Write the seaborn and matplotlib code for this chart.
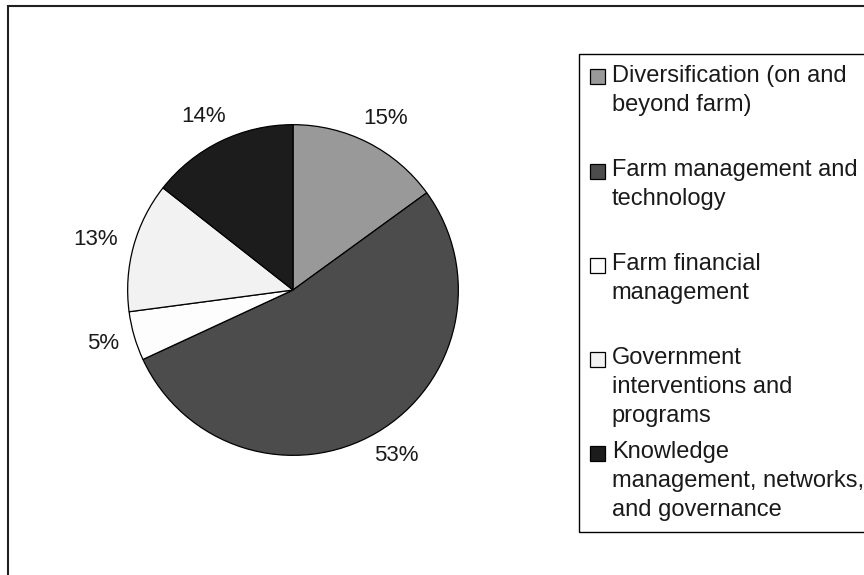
import matplotlib
matplotlib.use("Agg")
import numpy as np
import matplotlib.pyplot as plt
import seaborn as sns
from matplotlib.patches import Rectangle
from matplotlib.legend_handler import HandlerPatch

categories = [
    "Diversification (on and\nbeyond farm)",
    "Farm management and\ntechnology",
    "Farm financial\nmanagement",
    "Government\ninterventions and\nprograms",
    "Knowledge\nmanagement, networks,\nand governance",
]
shares = [15.0, 53.1, 4.8, 12.7, 14.4]
colors = ["#999999", "#4c4c4c", "#fdfdfd", "#f2f2f2", "#1c1c1c"]

sns.set_theme(style="white")
plt.rcParams["font.family"] = ["Liberation Sans", "DejaVu Sans"]

FS = 17

fig = plt.figure(figsize=(8.64, 5.75), dpi=100)
fig.patch.set_facecolor("white")

# outer chart border (only top/left visible in the original crop)
fig.patches.append(Rectangle((8 / 864, -0.5), 2, 1.5 - 6 / 575,
                             transform=fig.transFigure, fill=False,
                             edgecolor="#202020", linewidth=1.5))

ax = fig.add_axes([126 / 864, 118 / 575, 334 / 864, 334 / 575])
wedges, _, pct_texts = ax.pie(
    shares, colors=colors, startangle=90, counterclock=False,
    autopct="%1.0f%%", pctdistance=1.2,
    wedgeprops=dict(edgecolor="black", linewidth=0.9),
    textprops=dict(fontsize=16, color="#1a1a1a"),
)
ax.set_xlim(-1.01, 1.01)
ax.set_ylim(-1.01, 1.01)
ax.set_aspect("equal")

# place labels "outside end": box pushed out from a point just off the rim
fig.canvas.draw()
inv = ax.transData.inverted()
for w, t in zip(wedges, pct_texts):
    theta = np.deg2rad((w.theta1 + w.theta2) / 2)
    bb = t.get_window_extent().transformed(inv)
    c, s = np.cos(theta), np.sin(theta)
    x = 1.1 * c + c * bb.width / 2
    y = 1.1 * s + s * bb.height / 2
    t.set_position((x, y))

LINE_STEP = 21.6  # points between legend text lines
SQ = 10.8


class TopSquare(HandlerPatch):
    def create_artists(self, legend, orig_handle, xdescent, ydescent,
                       width, height, fontsize, trans):
        shift = LINE_STEP
        p = Rectangle((-xdescent, -ydescent + shift - 1), SQ, SQ,
                      facecolor=orig_handle.get_facecolor(),
                      edgecolor="black", linewidth=0.9, transform=trans)
        return [p]


handles = []
labels = []
for cat, col in zip(categories, colors):
    handles.append(Rectangle((0, 0), 1, 1, facecolor=col, edgecolor="black"))
    n = cat.count("\n") + 1
    labels.append(cat + "\n" * (3 - n))

leg = fig.legend(handles, labels, loc="upper left",
                 bbox_to_anchor=(579 / 864, 1 - 54 / 575),
                 bbox_transform=fig.transFigure, borderaxespad=0,
                 fontsize=FS, frameon=True, fancybox=False, framealpha=1,
                 edgecolor="black", borderpad=0.45, handlelength=SQ / FS,
                 handletextpad=0.3, labelspacing=0.61,
                 handler_map={Rectangle: TopSquare()})
leg.get_frame().set_linewidth(1.0)
for t in leg.get_texts():
    t.set_linespacing(1.405)
    t.set_color("#1a1a1a")

fig.savefig("out.png", dpi=100, facecolor="white")
